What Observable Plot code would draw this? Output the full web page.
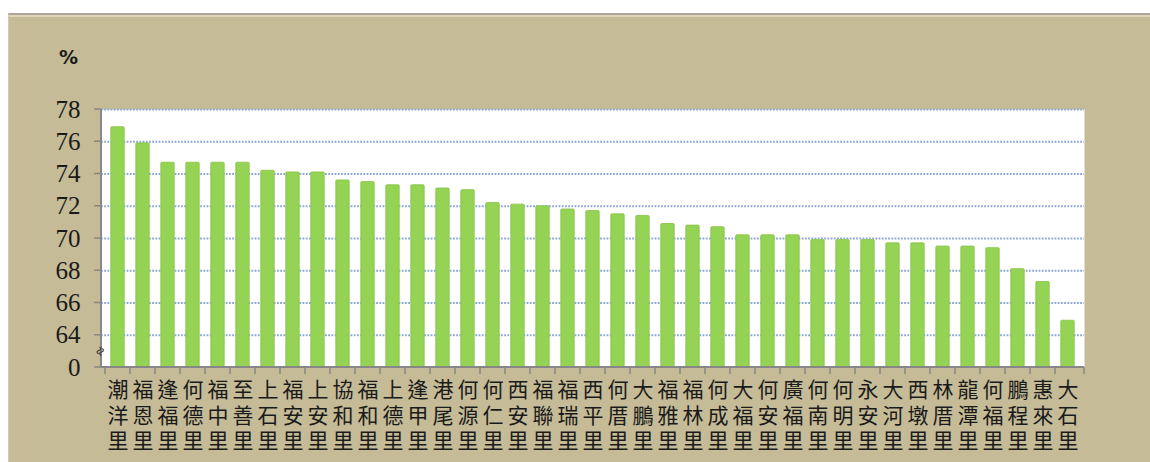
<!DOCTYPE html>
<html><head><meta charset="utf-8">
<script src="https://cdn.jsdelivr.net/npm/d3@7"></script>
<script src="https://cdn.jsdelivr.net/npm/@observablehq/plot@0.6"></script>
<style>
html,body{margin:0;padding:0;background:#fff;}
#wrap{position:relative;width:1150px;height:462px;overflow:hidden;}
#panel{position:absolute;left:8px;top:13px;right:0;bottom:0;background:#c5bb97;border-top:2px solid #aaa69b;border-left:1px solid #d2cbb0;box-shadow:inset 0 2px 0 #ddd6b8;}
#chart{position:absolute;left:0;top:0;}
</style></head><body>
<div id="wrap"><div id="panel"></div><div id="chart"></div></div>
<script>
const names = ["潮洋里","福恩里","逢福里","何德里","福中里","至善里","上石里","福安里","上安里","協和里","福和里","上德里","逢甲里","港尾里","何源里","何仁里","西安里","福聯里","福瑞里","西平里","何厝里","大鵬里","福雅里","福林里","何成里","大福里","何安里","廣福里","何南里","何明里","永安里","大河里","西墩里","林厝里","龍潭里","何福里","鵬程里","惠來里","大石里"];
const values = [76.9,75.9,74.7,74.7,74.7,74.7,74.2,74.1,74.1,73.6,73.5,73.3,73.3,73.1,73.0,72.2,72.1,72.0,71.8,71.7,71.5,71.4,70.9,70.8,70.7,70.2,70.2,70.2,69.9,69.9,69.9,69.7,69.7,69.5,69.5,69.4,68.1,67.3,64.9];
const yTickValues = [62,64,66,68,70,72,74,76,78];
const yTickLabels = ["0","64","66","68","70","72","74","76","78"];
const gridValues = [64,66,68,70,72,74,76,78];
const yUnit = "%";
const baseline = 62;
const breakMark = "≈";
const breakValue = 63;

const data = names.map((n, i) => ({name: n, value: values[i]}));

function axisLines(index, scales, vals, dim) {
  const {width, height, marginLeft, marginRight, marginTop, marginBottom} = dim;
  const g = d3.create("svg:g").attr("stroke", "#878787").attr("fill", "none");
  const yb = height - marginBottom;
  const x0 = marginLeft, x1 = width - marginRight;
  g.append("line").attr("x1", x0).attr("x2", x0).attr("y1", marginTop).attr("y2", yb).attr("stroke-width", 2);
  g.append("line").attr("x1", x0).attr("x2", x1).attr("y1", yb).attr("y2", yb).attr("stroke-width", 2);
  const bounds = names.map(n => scales.x(n)).concat([x1]);
  for (const b of bounds) g.append("line").attr("x1", b).attr("x2", b).attr("y1", yb).attr("y2", yb + 7).attr("stroke-width", 1.5);
  for (const v of yTickValues) { const y = scales.y(v); g.append("line").attr("x1", x0 - 7).attr("x2", x0).attr("y1", y).attr("y2", y).attr("stroke-width", 1.5); }
  return g.node();
}

const chart = Plot.plot({
  width: 1150, height: 462,
  marginLeft: 101, marginRight: 66, marginTop: 109, marginBottom: 95,
  style: {background: "transparent", fontFamily: "'Liberation Serif', serif", overflow: "visible", color: "#1a1a1a"},
  x: {domain: names, padding: 0, axis: null},
  y: {domain: [62, 78], axis: null},
  marks: [
    Plot.frame({fill: "white"}),
    Plot.ruleY(gridValues, {stroke: "#8aa5d8", strokeWidth: 2, strokeDasharray: "1.8,1.4"}),
    Plot.barY(data, {x: "name", y1: baseline, y2: "value", fill: "#95d354", stroke: "#86c246", strokeWidth: 0.8, insetLeft: 5.8, insetRight: 5.8, rx: 1}),
    Plot.axisY({ticks: yTickValues, tickFormat: d => yTickLabels[yTickValues.indexOf(d)], tickSize: 0, tickPadding: 21, fontSize: 25, label: null}),
    axisLines,
    Plot.text([yUnit], {frameAnchor: "top-left", textAnchor: "middle", lineAnchor: "middle", dx: -33, dy: -52, fontSize: 19, fontWeight: "bold", fontFamily: "'DejaVu Sans'"}),
    Plot.text([breakMark], {frameAnchor: "left", y: breakValue, textAnchor: "middle", lineAnchor: "middle", dx: -1, rotate: -60, fontSize: 15, fontWeight: "bold", fill: "#333"}),
    Plot.text(names, {x: d => d, frameAnchor: "bottom", dy: 47, lineAnchor: "middle", lineHeight: 1.2, text: d => d.split("").join("\n"), fontSize: 21, fontFamily: "'Noto Sans CJK TC'", fill: "#1a1a1a"})
  ]
});
document.getElementById("chart").appendChild(chart);
</script>
</body></html>
